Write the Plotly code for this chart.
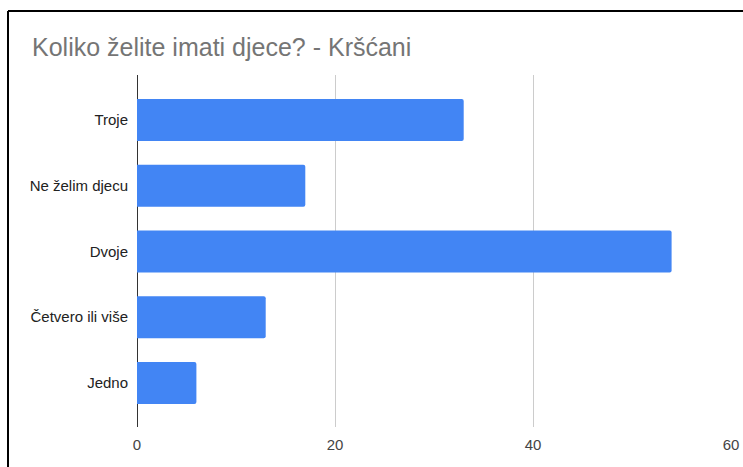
import plotly.graph_objects as go

categories = ["Troje", "Ne želim djecu", "Dvoje", "Četvero ili više", "Jedno"]
values = [33, 17, 54, 13, 6]
x_ticks = [0, 20, 40, 60]
title_text = "Koliko želite imati djece? - Kršćani"

W, H = 743, 467
L, R, T, B = 137, 12, 75, 40
pw, ph = W - L - R, H - T - B

fig = go.Figure(go.Bar(
    y=categories, x=values, orientation="h",
    marker=dict(color="#4285F4", cornerradius=2, line=dict(width=0)),
    width=0.64,
))

fig.update_layout(
    width=W, height=H, autosize=False,
    margin=dict(l=L, r=R, t=T, b=B, pad=0, autoexpand=False),
    paper_bgcolor="white", plot_bgcolor="white",
    showlegend=False,
    font=dict(family="Liberation Sans, Arial, sans-serif", color="#444444", size=15),
    title=dict(text=title_text, x=32 / W, xref="container", xanchor="left",
               y=1 - 47 / H, yref="container", yanchor="middle",
               font=dict(size=25, color="#757575")),
    xaxis=dict(range=[0, 60], tickvals=x_ticks, showgrid=True, gridcolor="#cccccc",
               gridwidth=1, zeroline=True, zerolinecolor="#333333", zerolinewidth=1,
               showline=False, ticks="outside", ticklen=4, tickcolor="rgba(0,0,0,0)",
               tickfont=dict(size=15, color="#444444"), automargin=False),
    yaxis=dict(categoryorder="array", categoryarray=categories,
               range=[4.67, -0.684], showgrid=False, zeroline=False, showline=False,
               ticks="outside", ticklen=5, tickcolor="rgba(0,0,0,0)",
               tickfont=dict(size=15, color="#222222"), automargin=False),
)

# Frame lines (left and top border)
x_left = (8 - L) / pw
y_top = (H - B - 11) / ph
fig.add_shape(type="line", xref="paper", yref="paper", x0=x_left, x1=2, y0=y_top, y1=y_top,
              line=dict(color="black", width=2))
fig.add_shape(type="line", xref="paper", yref="paper", x0=x_left, x1=x_left, y0=-1, y1=y_top,
              line=dict(color="black", width=2))

fig.write_html("out.html", config={"displayModeBar": False},
               post_script="document.body.style.margin='0px';")
